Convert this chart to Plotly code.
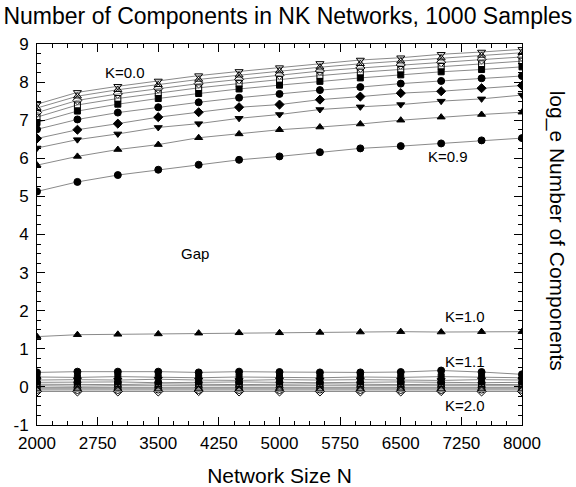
import plotly.graph_objects as go

N = [2000, 2500, 3000, 3500, 4000, 4500, 5000, 5500, 6000, 6500, 7000, 7500, 8000]

K_labels = ["K=0.0", "K=0.1", "K=0.2", "K=0.3", "K=0.4", "K=0.5", "K=0.6", "K=0.7", "K=0.8", "K=0.9",
            "K=1.0", "K=1.1", "K=1.2", "K=1.3", "K=1.4", "K=1.5", "K=1.6", "K=1.7", "K=1.8", "K=1.9", "K=2.0"]

k00 = [7.42, 7.73, 7.89, 8.03, 8.17, 8.28, 8.38, 8.49, 8.58, 8.64, 8.73, 8.79, 8.86]
k01 = [7.32, 7.63, 7.80, 7.93, 8.07, 8.18, 8.29, 8.39, 8.48, 8.55, 8.63, 8.70, 8.77]
k02 = [7.20, 7.52, 7.69, 7.83, 7.96, 8.07, 8.18, 8.29, 8.37, 8.45, 8.52, 8.59, 8.66]
k03 = [7.08, 7.40, 7.57, 7.71, 7.85, 7.96, 8.07, 8.17, 8.26, 8.33, 8.41, 8.48, 8.55]
k04 = [6.94, 7.24, 7.42, 7.57, 7.70, 7.82, 7.92, 8.02, 8.11, 8.19, 8.27, 8.33, 8.40]
k05 = [6.76, 7.02, 7.20, 7.34, 7.47, 7.59, 7.69, 7.79, 7.87, 7.96, 8.03, 8.10, 8.16]
k06 = [6.52, 6.75, 6.91, 7.08, 7.21, 7.34, 7.41, 7.54, 7.62, 7.71, 7.76, 7.84, 7.91]
k07 = [6.27, 6.49, 6.64, 6.81, 6.91, 7.05, 7.15, 7.28, 7.35, 7.41, 7.50, 7.56, 7.66]
k08 = [5.82, 6.05, 6.23, 6.36, 6.54, 6.64, 6.75, 6.82, 6.90, 7.00, 7.08, 7.15, 7.21]
k09 = [5.13, 5.38, 5.56, 5.70, 5.83, 5.96, 6.05, 6.16, 6.26, 6.32, 6.39, 6.47, 6.53]
k10 = [1.32, 1.37, 1.38, 1.39, 1.41, 1.42, 1.42, 1.43, 1.44, 1.45, 1.44, 1.45, 1.45]
k11 = [0.38, 0.40, 0.40, 0.40, 0.38, 0.40, 0.39, 0.38, 0.38, 0.39, 0.43, 0.39, 0.33]
k12 = [0.26, 0.25, 0.27, 0.25, 0.24, 0.26, 0.25, 0.24, 0.26, 0.25, 0.27, 0.25, 0.24]
k13 = [0.18, 0.19, 0.18, 0.20, 0.18, 0.17, 0.19, 0.18, 0.19, 0.18, 0.17, 0.19, 0.18]
k14 = [0.12, 0.12, 0.13, 0.11, 0.12, 0.13, 0.12, 0.11, 0.12, 0.13, 0.12, 0.11, 0.12]
k15 = [0.07, 0.07, 0.06, 0.08, 0.07, 0.06, 0.07, 0.08, 0.07, 0.06, 0.07, 0.07, 0.06]
k16 = [0.03, 0.02, 0.03, 0.03, 0.02, 0.03, 0.02, 0.03, 0.03, 0.02, 0.03, 0.02, 0.03]
k17 = [-0.02, -0.02, -0.01, -0.02, -0.02, -0.01, -0.02, -0.02, -0.01, -0.02, -0.02, -0.01, -0.02]
k18 = [-0.05, -0.05, -0.04, -0.05, -0.05, -0.05, -0.04, -0.05, -0.05, -0.04, -0.05, -0.05, -0.05]
k19 = [-0.08, -0.08, -0.08, -0.07, -0.08, -0.08, -0.08, -0.07, -0.08, -0.08, -0.08, -0.07, -0.08]
k20 = [-0.12, -0.12, -0.12, -0.12, -0.11, -0.12, -0.12, -0.12, -0.12, -0.12, -0.11, -0.12, -0.12]

series = [k00, k01, k02, k03, k04, k05, k06, k07, k08, k09,
          k10, k11, k12, k13, k14, k15, k16, k17, k18, k19, k20]

symbols = ["triangle-down-open", "triangle-up-open", "diamond-open", "square-open", "square",
           "circle", "diamond", "triangle-down", "triangle-up", "circle",
           "triangle-up", "circle", "square", "triangle-down", "circle",
           "square", "square-open", "circle-open", "triangle-up-open", "circle-open", "diamond-open"]

x_tickvals = [2000, 2750, 3500, 4250, 5000, 5750, 6500, 7250, 8000]
y_tickvals = [-1, 0, 1, 2, 3, 4, 5, 6, 7, 8, 9]

labels_text = ["K=0.0", "K=0.9", "Gap", "K=1.0", "K=1.1", "K=2.0"]
labels_x = [3086, 7080, 3950, 7290, 7290, 7290]
labels_y = [8.24, 6.06, 3.49, 1.85, 0.67, -0.48]

FONT = "Liberation Sans, Arial, Helvetica, sans-serif"

fig = go.Figure()
for name, ys, sym in zip(K_labels, series, symbols):
    size = 6 if "square" in sym else 7
    fig.add_trace(go.Scatter(
        x=N, y=ys, name=name, mode="lines+markers",
        line=dict(color="#8a8a8a", width=1),
        marker=dict(symbol=sym, size=size, color="black",
                    line=dict(color="black", width=1)),
        showlegend=False,
    ))

for t, xx, yy in zip(labels_text, labels_x, labels_y):
    fig.add_annotation(x=xx, y=yy, text=t, showarrow=False,
                       font=dict(family=FONT, size=15, color="black"))

fig.add_annotation(xref="paper", yref="paper", x=1.0, y=0.51, xshift=49,
                   text="log_e Number of Components", textangle=90, showarrow=False,
                   font=dict(family=FONT, size=21, color="black"))

fig.update_layout(
    width=576, height=487,
    margin=dict(l=37, r=54, t=44, b=62, autoexpand=False),
    paper_bgcolor="white", plot_bgcolor="white",
    font=dict(family=FONT, size=17, color="black"),
    title=dict(text="Number of Components in NK Networks, 1000 Samples",
               x=0.006, xanchor="left", y=0.967, yanchor="middle",
               font=dict(family=FONT, size=23, color="black")),
)
fig.update_xaxes(
    range=[2000, 8000], tickvals=x_tickvals, ticktext=[str(v) for v in x_tickvals],
    automargin=False, ticklabelstandoff=3,
    showgrid=False, zeroline=False, showline=True, linecolor="black", linewidth=1,
    mirror="allticks", ticks="inside", ticklen=8, tickcolor="black",
    minor=dict(dtick=187.5, tick0=2000, ticks="inside", ticklen=4, tickcolor="black", showgrid=False),
    title=dict(text="Network Size N", font=dict(family=FONT, size=21)),
    tickfont=dict(family=FONT, size=17),
)
fig.update_yaxes(
    range=[-1, 9], tickvals=y_tickvals, ticktext=[str(v) for v in y_tickvals],
    automargin=False, ticklabelstandoff=4,
    showgrid=False, zeroline=False, showline=True, linecolor="black", linewidth=1,
    mirror="allticks", ticks="inside", ticklen=8, tickcolor="black",
    minor=dict(dtick=0.25, tick0=0, ticks="inside", ticklen=4, tickcolor="black", showgrid=False),
    tickfont=dict(family=FONT, size=17),
)

fig.write_html("out.html", config={"displayModeBar": False},
               post_script="document.body.style.margin='0px';")
